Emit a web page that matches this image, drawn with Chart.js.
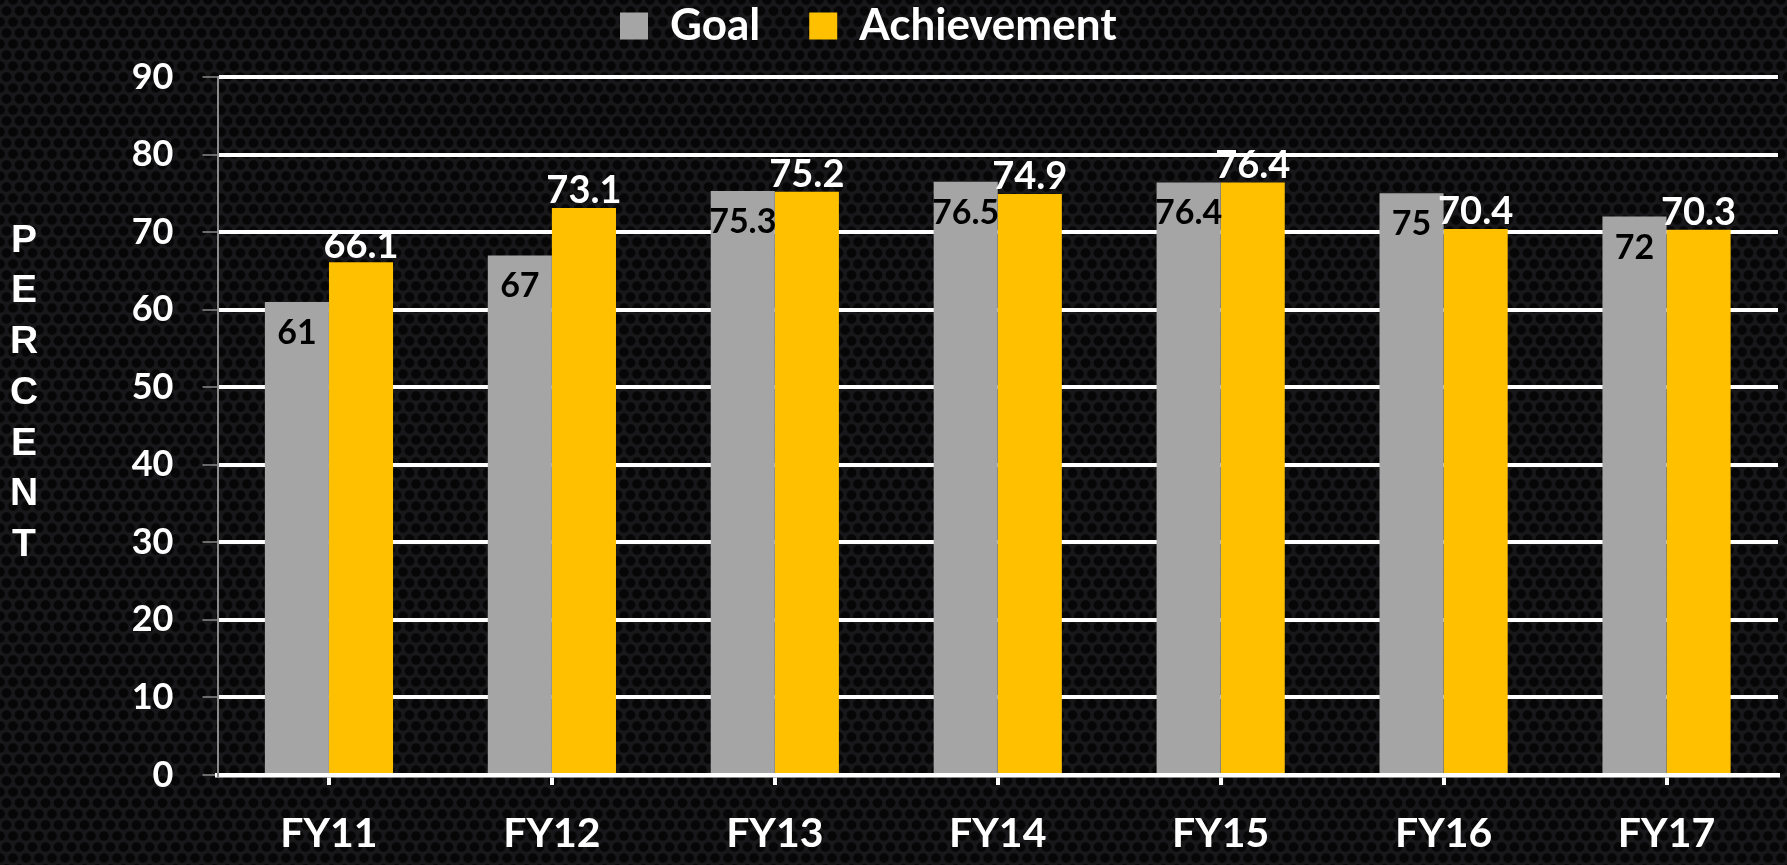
<!DOCTYPE html>
<html>
<head>
<meta charset="utf-8">
<title>Goal vs Achievement</title>
<script src="https://cdn.jsdelivr.net/npm/chart.js@4.4.1/dist/chart.umd.min.js"></script>
<style>
  html, body { margin: 0; padding: 0; }
  body {
    width: 1787px;
    height: 865px;
    overflow: hidden;
    background-color: #18181a;
    background-image:
      radial-gradient(circle at center, #060607 0 4.2px, transparent 5.4px),
      radial-gradient(circle at center, #060607 0 4.2px, transparent 5.4px);
    background-size: 13px 22px;
    background-position: 0 0, 6.5px 11px;
  }
  #wrap { position: relative; width: 1787px; height: 865px; }
</style>
</head>
<body>
<div id="wrap"><canvas id="goalChart" width="1787" height="865"></canvas></div>
<script>
const categories = ['FY11', 'FY12', 'FY13', 'FY14', 'FY15', 'FY16', 'FY17'];
const goalValues = [61, 67, 75.3, 76.5, 76.4, 75, 72];
const achievementValues = [66.1, 73.1, 75.2, 74.9, 76.4, 70.4, 70.3];
const yTickValues = [0, 10, 20, 30, 40, 50, 60, 70, 80, 90];
const axisTitle = 'PERCENT';

const fontFamily = 'Lato, "Open Sans", sans-serif';

// numbers on the bars: black inside the gray bars, white above the yellow ones
const valueLabels = {
    id: 'valueLabels',
    afterDatasetsDraw(chart) {
        const ctx = chart.ctx;
        ctx.save();
        ctx.textAlign = 'center';
        ctx.textBaseline = 'middle';
        chart.data.datasets.forEach((ds, di) => {
            const meta = chart.getDatasetMeta(di);
            meta.data.forEach((bar, i) => {
                if (di === 0) {
                    ctx.font = `bold 34px ${fontFamily}`;
                    ctx.fillStyle = '#000000';
                    ctx.fillText(String(ds.data[i]), bar.x, bar.y + 31);
                } else {
                    ctx.font = `bold 38px ${fontFamily}`;
                    ctx.fillStyle = '#ffffff';
                    ctx.fillText(String(ds.data[i]), bar.x, bar.y - 17);
                }
            });
        });
        ctx.restore();
    }
};

// stacked letters of the y axis title
const stackedTitle = {
    id: 'stackedTitle',
    afterDraw(chart) {
        const ctx = chart.ctx;
        ctx.save();
        ctx.font = 'bold 39px "Liberation Sans", Arial, sans-serif';
        ctx.fillStyle = '#ffffff';
        ctx.textAlign = 'center';
        ctx.textBaseline = 'middle';
        axisTitle.split('').forEach((ch, i) => {
            ctx.fillText(ch, 24, 241 + i * 50.7);
        });
        ctx.restore();
    }
};

// legend sits higher and further left than Chart.js would put it
const legendSpot = {
    id: 'legendSpot',
    afterLayout(chart) {
        const lg = chart.legend;
        const pad = lg.options.labels.padding;
        lg.left = 620 - pad;
        lg.top = 4 - pad;
    }
};

const ctx = document.getElementById('goalChart').getContext('2d');
new Chart(ctx, {
    type: 'bar',
    data: {
        labels: categories,
        datasets: [
            {
                label: 'Goal',
                data: goalValues,
                backgroundColor: '#a5a5a5',
                borderWidth: 0,
                categoryPercentage: 0.575,
                barPercentage: 1.0
            },
            {
                label: 'Achievement',
                data: achievementValues,
                backgroundColor: '#ffc000',
                borderWidth: 0,
                categoryPercentage: 0.575,
                barPercentage: 1.0
            }
        ]
    },
    options: {
        responsive: false,
        animation: false,
        layout: {
            padding: { left: 0, right: 9, top: 0, bottom: 0 }
        },
        plugins: {
            legend: {
                position: 'top',
                align: 'start',
                maxHeight: 77,
                labels: {
                    color: '#ffffff',
                    boxWidth: 28,
                    boxHeight: 27,
                    padding: 49,
                    font: { family: fontFamily, size: 44, weight: 'bold' }
                }
            },
            tooltip: { enabled: false }
        },
        scales: {
            x: {
                offset: true,
                grid: {
                    offset: false,
                    drawOnChartArea: false,
                    color: '#ffffff',
                    lineWidth: 4,
                    tickLength: 10
                },
                border: { color: '#ffffff', width: 4.5 },
                ticks: {
                    color: '#ffffff',
                    padding: 24,
                    font: { family: fontFamily, size: 41, weight: 'bold' }
                },
                afterFit(axis) { axis.height = 90; }
            },
            y: {
                min: 0,
                max: 90,
                afterBuildTicks(axis) {
                    axis.ticks = yTickValues.map(v => ({ value: v }));
                },
                afterFit(axis) { axis.width = 217.5; },
                grid: {
                    color: '#ffffff',
                    lineWidth: 4,
                    tickColor: '#8a8a8a',
                    tickWidth: 1.5,
                    tickLength: 15
                },
                border: { color: '#8a8a8a', width: 2 },
                ticks: {
                    color: '#ffffff',
                    padding: 29,
                    font: { family: fontFamily, size: 36, weight: 'bold' }
                }
            }
        }
    },
    plugins: [valueLabels, stackedTitle, legendSpot]
});
</script>
</body>
</html>
